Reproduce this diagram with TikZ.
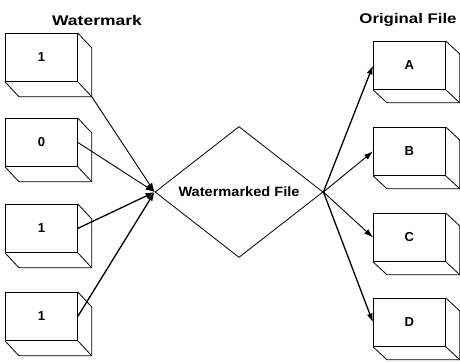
\documentclass[tikz,border=0pt]{standalone}
\usepackage{fontspec}
\setmainfont{Liberation Sans}
\usetikzlibrary{shapes.geometric,arrows.meta,calc}
\begin{document}
\begin{tikzpicture}[x=1pt,y=-1pt,
  box/.style={draw, line width=0.8pt, minimum width=72pt, minimum height=48pt, inner sep=0pt,
    anchor=north west, font=\fontsize{13}{13}\selectfont\bfseries},
  ttl/.style={font=\fontsize{14}{14}\selectfont\bfseries, inner sep=0pt},
  arr/.style={line width=0.9pt, -{Latex[length=9pt,width=6pt]}},
  arrb/.style={line width=1.3pt, -{Latex[length=9pt,width=6pt]}}]
\useasboundingbox (0,0) rectangle (460,362);
\node[ttl] (t1) at (97,20) {\scalebox{1.25}[1]{Watermark}};
\node[ttl] (t2) at (408,20) {\scalebox{1.2}[1]{Original File}};
\node[box] (w1) at (5,33) {1};
\node[box] (w2) at (5,118) {0};
\node[box] (w3) at (5,204) {1};
\node[box] (w4) at (5,292) {1};
\node[box] (o1) at (373,41) {A};
\node[box] (o2) at (373,127) {B};
\node[box] (o3) at (373,213) {C};
\node[box] (o4) at (373,298) {D};
\foreach \b in {w1,w2,w3,w4}{
  \draw[line width=0.8pt] (\b.north east) -- ++(14,15) -- ($(\b.south east)+(14,15)$) -- ($(\b.south west)+(14,15)$) -- (\b.south west);
  \draw[line width=0.8pt] (\b.south east) -- ++(14,15);
}
\foreach \b in {o1,o2,o3,o4}{
  \draw[line width=0.8pt] (\b.north east) -- ++(14,13) -- ($(\b.south east)+(14,13)$) -- ($(\b.south west)+(14,13)$) -- (\b.south west);
  \draw[line width=0.8pt] (\b.south east) -- ++(14,13);
}
\node[diamond, draw, line width=0.8pt, minimum width=168pt, minimum height=125pt, inner sep=0pt,
  font=\fontsize{13.5}{13.5}\selectfont\bfseries] (wf) at (239,192) {\scalebox{1.08}[1]{Watermarked File}};
\coordinate (w1c) at ($(w1.south east)+(14,15)$);
\draw[arr] (w1c) -- (wf.west);
\draw[arr] (w2.east) -- (wf.west);
\draw[arrb] (w3.east) -- (wf.west);
\draw[arrb] (w4.east) -- (wf.west);
\draw[arrb] (wf.east) -- (o1.west);
\draw[arr] (wf.east) -- (o2.west);
\draw[arr] (wf.east) -- (o3.west);
\draw[arrb] (wf.east) -- (o4.west);
\end{tikzpicture}
\end{document}
